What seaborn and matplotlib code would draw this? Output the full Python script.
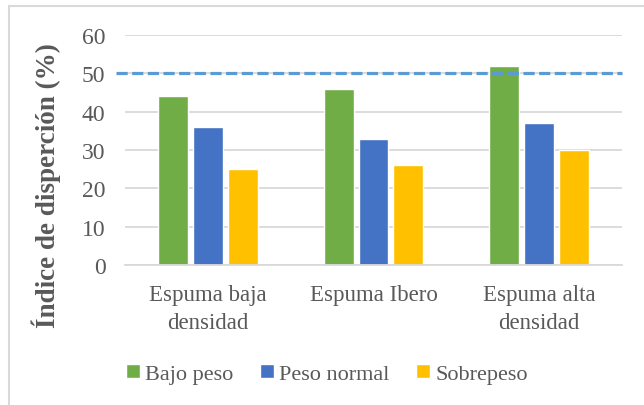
import matplotlib
matplotlib.use("Agg")
import matplotlib.pyplot as plt
import seaborn as sns
import pandas as pd
from matplotlib.lines import Line2D

# === DATA ===
categories = ["Espuma baja\ndensidad", "Espuma Ibero", "Espuma alta\ndensidad"]
series = ["Bajo peso", "Peso normal", "Sobrepeso"]
bajo_peso = [44, 46, 52]
peso_normal = [36, 33, 37]
sobrepeso = [25, 26, 30]
umbral = 50
yticks = [0, 10, 20, 30, 40, 50, 60]

colors = ["#70AD47", "#4472C4", "#FFC000"]
TEXT = "#595959"
GRID = "#D9D9D9"

df = pd.DataFrame({
    "categoria": categories * 3,
    "grupo": [s for s in series for _ in categories],
    "valor": bajo_peso + peso_normal + sobrepeso,
})

sns.set_style("white")
plt.rcParams["font.family"] = ["Liberation Serif", "DejaVu Serif"]

fig = plt.figure(figsize=(6.44, 4.06), dpi=100)
ax = fig.add_axes([125 / 644, 1 - 266 / 406, 497 / 644, 230 / 406])

sns.barplot(data=df, x="categoria", y="valor", hue="grupo", order=categories,
            hue_order=series, palette=colors, width=0.63, gap=0.14,
            saturation=1, ax=ax, zorder=2)

ax.set_ylim(0, 60)
ax.set_yticks(yticks)
ax.yaxis.grid(True, color=GRID, linewidth=1.3, zorder=0)
ax.set_axisbelow(True)
for side in ["top", "right", "left"]:
    ax.spines[side].set_visible(False)
ax.spines["bottom"].set_color(GRID)
ax.spines["bottom"].set_linewidth(1.3)
ax.tick_params(axis="y", length=0, labelsize=17, colors=TEXT, pad=14)
ax.tick_params(axis="x", length=0, labelsize=16.5, colors=TEXT, pad=14)
for lbl in ax.get_xticklabels():
    lbl.set_linespacing(1.4)

ax.set_xlabel("")
ax.set_ylabel("Índice de disperción (%)", fontsize=19.5, fontweight="bold",
              color=TEXT)
ax.yaxis.set_label_coords(-0.128, 0.35)

# reference line at 50
ax.axhline(umbral, xmin=-0.018, xmax=1, color="#5B9BD5", linewidth=2.3,
           linestyle=(0, (3.5, 1.4)), clip_on=False, zorder=3)

handles, labels = ax.get_legend_handles_labels()
ax.legend(handles, labels, loc="center", bbox_to_anchor=(327 / 644, 1 - 375 / 406),
          bbox_transform=fig.transFigure, ncol=3, frameon=False, fontsize=16,
          labelcolor=TEXT, handlelength=0.6, handleheight=0.6, handletextpad=0.25,
          columnspacing=1.2)

# chart frame (top and left edges visible)
fig.add_artist(Line2D([9 / 644, 1], [1 - 7 / 406, 1 - 7 / 406], color=GRID, lw=1.5,
                      transform=fig.transFigure))
fig.add_artist(Line2D([9 / 644, 9 / 644], [0, 1 - 7 / 406], color=GRID, lw=1.5,
                      transform=fig.transFigure))

fig.savefig("out.png", dpi=100)
